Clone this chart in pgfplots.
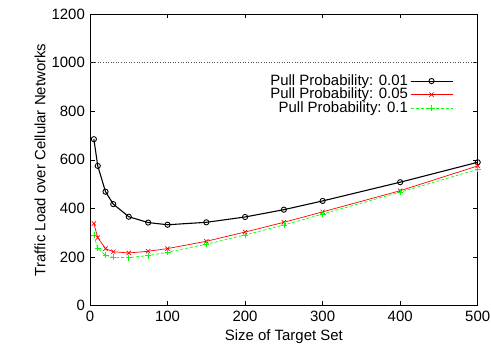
\documentclass[border=0pt]{standalone}
\usepackage{fontspec}
\setmainfont{Liberation Sans}
\usepackage{pgfplots}
\pgfplotsset{compat=1.18}
\begin{document}
\fontsize{15}{18}\selectfont
\begin{tikzpicture}
\begin{axis}[
  scale only axis,
  width=387.7bp, height=291.7bp,
  xmin=0, xmax=500, ymin=0, ymax=1200,
  xtick={0,100,...,500}, ytick={0,200,...,1200},
  tick align=inside,
  major tick length=4.5bp,
  axis line style={line width=0.8pt},
  every tick/.style={black, line width=0.6pt},
  /pgf/number format/assume math mode=true,
  /pgf/number format/1000 sep={},
  ticklabel style={font=\fontsize{15}{18}\selectfont},
  label style={font=\fontsize{15}{18}\selectfont},
  xlabel={Size of Target Set},
  ylabel={Traffic Load over Cellular Networks},
  xlabel style={yshift=2bp},
  ylabel style={yshift=-4bp},
  legend style={draw=none, fill=none, at={(rel axis cs:0.937,0.80)}, anchor=north east,
    font=\fontsize{15}{18}\selectfont, row sep=-3.5bp, inner sep=0pt},
  legend cell align=right,
  legend plot pos=right,
  legend image code/.code={\draw[mark repeat=2,mark phase=2] plot coordinates {(0bp,0bp) (21bp,0bp) (42bp,0bp)};},
]
\addplot[black, line width=1.1pt, mark=o, mark size=2.6bp, mark options={solid, line width=0.9pt}] coordinates {
(5,685) (10,575) (20,469) (30,418) (50,366) (75,342) (100,333) (150,343) (200,365) (250,395) (300,431) (400,508) (500,590)};
\addlegendentry{Pull Probability: 0.01\hspace{5bp}}
\addplot[red, line width=0.7pt, mark=x, mark size=3bp, mark options={solid}] coordinates {
(5,338) (10,280) (20,235) (30,222) (50,217) (75,224) (100,235) (150,265) (200,303) (250,343) (300,386) (400,473) (500,575)};
\addlegendentry{Pull Probability: 0.05\hspace{5bp}}
\addplot[green, line width=0.7pt, dashed, dash pattern=on 3bp off 2bp, mark=+, mark size=3bp, mark options={solid}] coordinates {
(5,290) (10,236) (20,207) (30,199) (50,198) (75,206) (100,220) (150,253) (200,291) (250,332) (300,377) (400,467) (500,561)};
\addlegendentry{Pull Probability: 0.1\hspace{5bp}}
\addplot[black!70, line width=0.6pt, dotted, forget plot] coordinates {(0,1000) (500,1000)};
\end{axis}
\pgfresetboundingbox
\path ([xshift=-90bp,yshift=-50.3bp]current axis.south west) rectangle ([xshift=13.3bp,yshift=14bp]current axis.north east);
\end{tikzpicture}
\end{document}
